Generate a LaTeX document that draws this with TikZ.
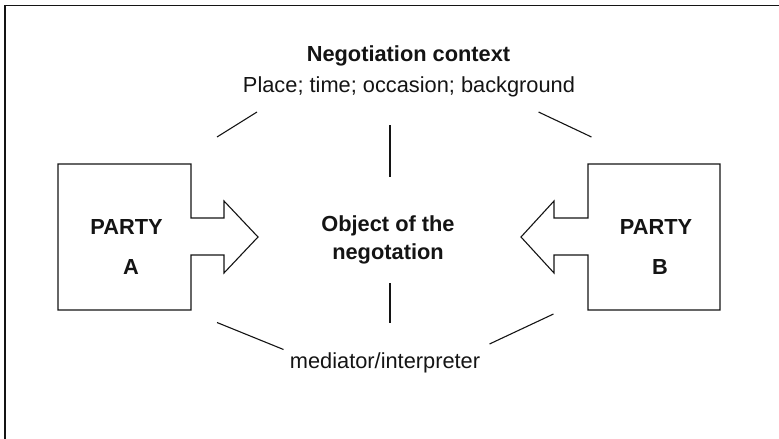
\documentclass[tikz,border=0pt]{standalone}
\usepackage{fontspec}
\setmainfont{Liberation Sans}
\usepackage{tikz}
\usetikzlibrary{positioning, calc}
\definecolor{NegInk}{RGB}{20, 20, 20}
\tikzset{
  party/.style={draw=NegInk, line width=1.1pt, fill=white, line join=miter},
  spoke/.style={draw=NegInk, line width=1.1pt},
  label/.style={inner sep=0pt, text=NegInk, font=\fontsize{21.8}{27.6}\selectfont},
  boldlabel/.style={label, font=\fontsize{21.8}{27.6}\selectfont\bfseries}
}

\begin{document}
\begin{tikzpicture}[x=1pt, y=-1pt]
    \useasboundingbox (0,0) rectangle (779,439);
    % frame (only top and left edges show)
    \draw[line width=1.6pt, NegInk] (5,439) -- (5,5.5) -- (779,5.5);

    % the two parties, each pushing an arrow to the middle
    \path[party] (58,164) -- (191,164) -- (191,218) -- (224,218) -- (224,201)
      -- (258,237) -- (224,273) -- (224,255) -- (191,255) -- (191,310)
      -- (58,310) -- cycle;
    \path[party] (720,164) -- (588,164) -- (588,218) -- (554,218) -- (554,201)
      -- (521,237) -- (554,273) -- (554,255) -- (588,255) -- (588,310)
      -- (720,310) -- cycle;

    \node[boldlabel, anchor=base] (partyA) at (126.5,234.5) {PARTY};
    \node[boldlabel, anchor=base] (nameA) at (131,274.5) {A};
    \node[boldlabel, anchor=base] (partyB) at (656,234.5) {PARTY};
    \node[boldlabel, anchor=base] (nameB) at (660,274.5) {B};

    \node[boldlabel, align=center] (object) at (388,240) {Object of the\\negotation};

    \node[boldlabel, anchor=base] (context) at (408.5,61.7) {Negotiation context};
    \node[label, anchor=base] (setting) at (409,92.7) {Place; time; occasion; background};
    \node[label, anchor=base] (mediator) at (385,368.3) {mediator/interpreter};

    % spokes round the object
    \coordinate (upLa) at (257,112);   \coordinate (upLb) at (217,137);
    \coordinate (upMa) at (390,125);   \coordinate (upMb) at (390,177);
    \coordinate (upRa) at (538.5,112); \coordinate (upRb) at (591.5,137);
    \coordinate (loMa) at (390,283);   \coordinate (loMb) at (390,323);
    \coordinate (loLa) at (217,322.5); \coordinate (loLb) at (283.5,349.5);
    \coordinate (loRa) at (553.5,314); \coordinate (loRb) at (489.5,344);

    \draw[spoke] (upLa) -- (upLb);
    \draw[spoke] (upMa) -- (upMb);
    \draw[spoke] (upRa) -- (upRb);
    \draw[spoke] (loMa) -- (loMb);
    \draw[spoke] (loLa) -- (loLb);
    \draw[spoke] (loRa) -- (loRb);
  \end{tikzpicture}
\end{document}
